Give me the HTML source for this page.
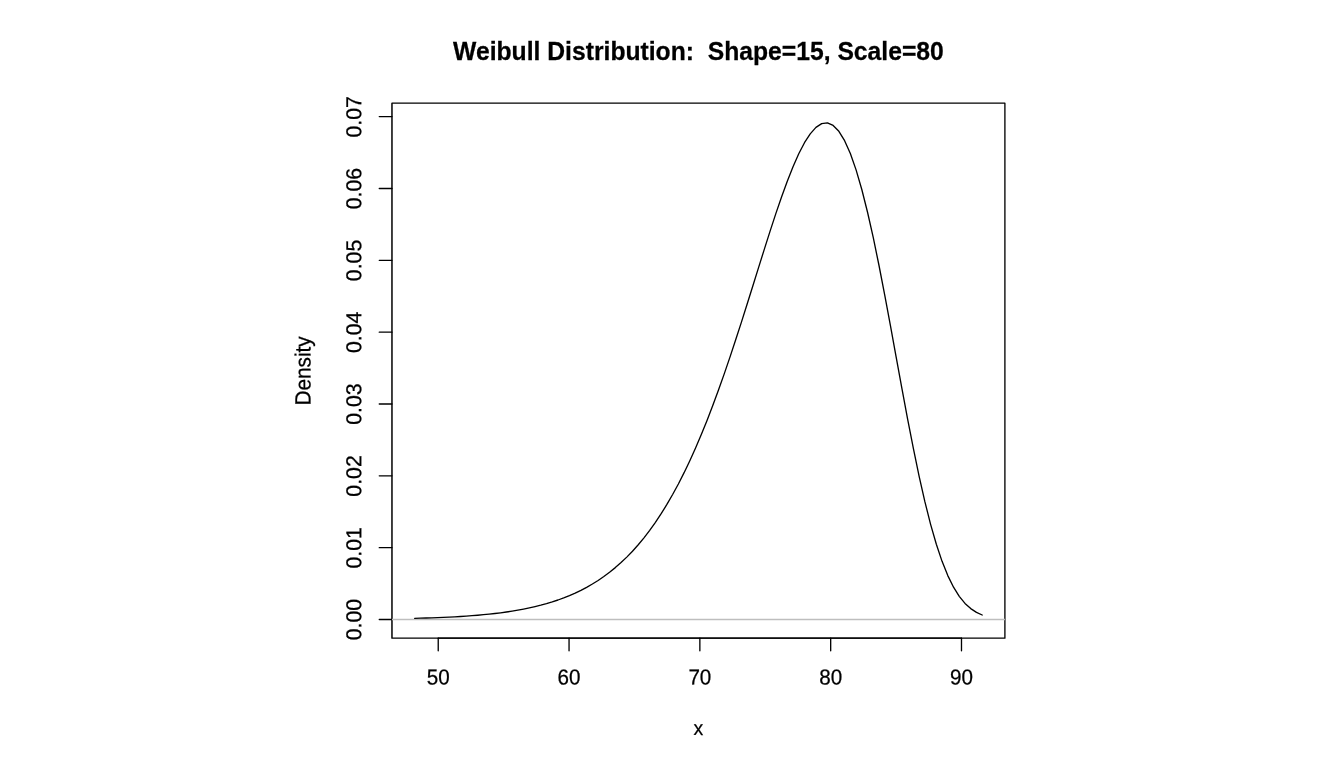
<!DOCTYPE html>
<html><head><meta charset="utf-8"><title>Weibull Distribution</title>
<style>html,body{margin:0;padding:0;background:#fff;}body{width:1344px;height:768px;overflow:hidden;}svg{display:block;}text{font-family:"Liberation Sans",sans-serif;fill:#000;stroke:#000;stroke-width:0.25px;}</style></head><body>
<svg width="1344" height="768" viewBox="0 0 1344 768">
<rect width="1344" height="768" fill="#fff"/>
<g stroke="#000" stroke-width="1.33" fill="none" stroke-linecap="round"><path d="M438.23 638.16H961.49"/><path d="M438.23 638.16v12.70"/><path d="M569.05 638.16v12.70"/><path d="M699.86 638.16v12.70"/><path d="M830.68 638.16v12.70"/><path d="M961.49 638.16v12.70"/><path d="M391.96 638.16V103.14" stroke-opacity="0.37" stroke-linecap="butt"/><path d="M391.96 619.46h-12.70"/><path d="M391.96 547.63h-12.70"/><path d="M391.96 475.79h-12.70"/><path d="M391.96 403.96h-12.70"/><path d="M391.96 332.13h-12.70"/><path d="M391.96 260.29h-12.70"/><path d="M391.96 188.46h-12.70"/><path d="M391.96 116.62h-12.70"/><rect x="391.96" y="103.14" width="612.94" height="535.02" stroke-linejoin="round"/></g>
<path d="M391.96 619.46H1004.90" stroke="#bebebe" stroke-width="1.33" fill="none"/>
<polyline points="414.66,618.34 420.39,618.19 426.13,618.02 431.86,617.83 437.59,617.62 443.32,617.38 449.06,617.11 454.79,616.81 460.52,616.48 466.26,616.10 471.99,615.69 477.72,615.22 483.45,614.71 489.19,614.13 494.92,613.50 500.65,612.79 506.38,612.00 512.12,611.14 517.85,610.17 523.58,609.11 529.32,607.94 535.05,606.64 540.78,605.21 546.51,603.64 552.25,601.91 557.98,600.00 563.71,597.91 569.44,595.62 575.18,593.10 580.91,590.35 586.64,587.33 592.38,584.04 598.11,580.45 603.84,576.53 609.57,572.26 615.31,567.62 621.04,562.58 626.77,557.11 632.50,551.19 638.24,544.78 643.97,537.85 649.70,530.39 655.43,522.35 661.17,513.72 666.90,504.45 672.63,494.54 678.37,483.95 684.10,472.67 689.83,460.68 695.56,447.98 701.30,434.55 707.03,420.41 712.76,405.56 718.49,390.03 724.23,373.87 729.96,357.11 735.69,339.82 741.43,322.10 747.16,304.03 752.89,285.74 758.62,267.38 764.36,249.12 770.09,231.14 775.82,213.66 781.55,196.92 787.29,181.17 793.02,166.69 798.75,153.78 804.48,142.72 810.22,133.82 815.95,127.38 821.68,123.67 827.42,122.96 833.15,125.45 838.88,131.32 844.61,140.67 850.35,153.54 856.08,169.87 861.81,189.52 867.54,212.24 873.28,237.71 879.01,265.50 884.74,295.09 890.48,325.90 896.21,357.31 901.94,388.67 907.67,419.35 913.41,448.74 919.14,476.32 924.87,501.63 930.60,524.36 936.34,544.30 942.07,561.37 947.80,575.62 953.54,587.21 959.27,596.36 965.00,603.39 970.73,608.61 976.47,612.38 982.20,614.99" fill="none" stroke="#000" stroke-width="1.33" stroke-linejoin="round" stroke-linecap="round"/>
<text transform="translate(438.23 684.45) rotate(0.03) scale(0.975 1.025)" font-size="21.17" text-anchor="middle">50</text>
<text transform="translate(569.05 684.45) rotate(0.03) scale(0.975 1.025)" font-size="21.17" text-anchor="middle">60</text>
<text transform="translate(699.86 684.45) rotate(0.03) scale(0.975 1.025)" font-size="21.17" text-anchor="middle">70</text>
<text transform="translate(830.68 684.45) rotate(0.03) scale(0.975 1.025)" font-size="21.17" text-anchor="middle">80</text>
<text transform="translate(961.49 684.45) rotate(0.03) scale(0.975 1.025)" font-size="21.17" text-anchor="middle">90</text>
<text transform="translate(361.35 619.66) rotate(-89.97) scale(1 1.015)" font-size="21.28" text-anchor="middle">0.00</text>
<text transform="translate(361.35 547.83) rotate(-89.97) scale(1 1.015)" font-size="21.28" text-anchor="middle">0.01</text>
<text transform="translate(361.35 475.99) rotate(-89.97) scale(1 1.015)" font-size="21.28" text-anchor="middle">0.02</text>
<text transform="translate(361.35 404.16) rotate(-89.97) scale(1 1.015)" font-size="21.28" text-anchor="middle">0.03</text>
<text transform="translate(361.35 332.33) rotate(-89.97) scale(1 1.015)" font-size="21.28" text-anchor="middle">0.04</text>
<text transform="translate(361.35 260.49) rotate(-89.97) scale(1 1.015)" font-size="21.28" text-anchor="middle">0.05</text>
<text transform="translate(361.35 188.66) rotate(-89.97) scale(1 1.015)" font-size="21.28" text-anchor="middle">0.06</text>
<text transform="translate(361.35 116.82) rotate(-89.97) scale(1 1.015)" font-size="21.28" text-anchor="middle">0.07</text>
<text transform="translate(698.43 60.00) scale(1 1.060)" font-size="24.70" font-weight="bold" text-anchor="middle" xml:space="preserve" style="white-space:pre">Weibull Distribution:  Shape=15, Scale=80</text>
<text transform="translate(698.43 734.95) rotate(0.03) scale(0.92 0.955)" font-size="21.17" text-anchor="middle">x</text>
<text transform="translate(310.50 370.95) rotate(-89.97) scale(0.982 1.040)" font-size="21.17" text-anchor="middle">Density</text>
</svg></body></html>
